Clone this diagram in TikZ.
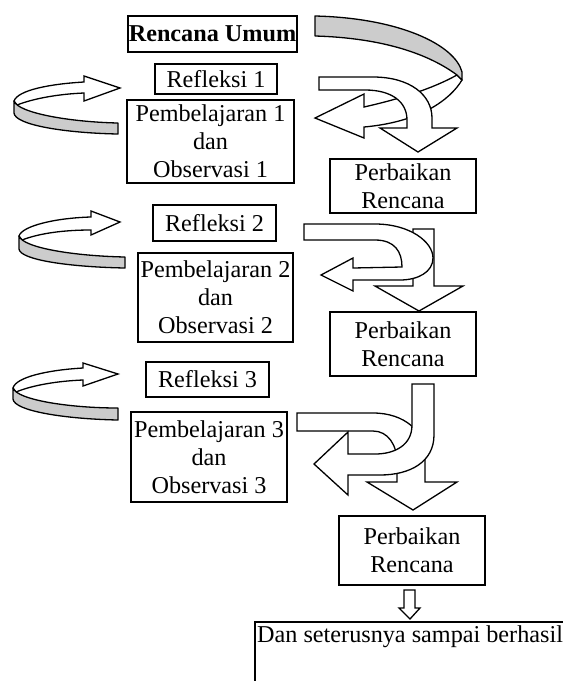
\documentclass[tikz,border=0pt]{standalone}
\usepackage{fontspec}
\setmainfont{Liberation Serif}
\definecolor{ribbon}{RGB}{204,204,204}
\begin{document}
\begin{tikzpicture}[x=1pt,y=-1pt,
  txt/.style={font=\fontsize{24.2}{28}\selectfont},
  box/.style={draw, line width=1.4pt, inner sep=0pt, align=center, txt},
  shp/.style={draw, line width=1.3pt, line join=miter, fill=white},
  band/.style={draw, line width=1.3pt, line join=round, fill=ribbon}]
\useasboundingbox (0,0) rectangle (563,681);

% ---- boxes ----
\node[box, minimum width=169pt, minimum height=36pt] (ru) at (212.5,34) {\textbf{Rencana Umum}};
\node[box, minimum width=122pt, minimum height=30pt] (r1) at (216,79) {Refleksi 1};
\node[box, minimum width=167pt, minimum height=83pt] (p1) at (210.5,141.5) {Pembelajaran 1\\dan\\Observasi 1};
\node[box, minimum width=146pt, minimum height=54pt] (pr1) at (403,186) {Perbaikan\\Rencana};
\node[box, minimum width=123pt, minimum height=36pt] (r2) at (214.5,223) {Refleksi 2};
\node[box, minimum width=155pt, minimum height=89pt] (p2) at (215.5,297.5) {Pembelajaran 2\\dan\\Observasi 2};
\node[box, minimum width=146pt, minimum height=64pt] (pr2) at (403,344) {Perbaikan\\Rencana};
\node[box, minimum width=123pt, minimum height=35pt] (r3) at (207.5,379.5) {Refleksi 3};
\node[box, minimum width=156pt, minimum height=90pt] (p3) at (209,457) {Pembelajaran 3\\dan\\Observasi 3};
\node[box, minimum width=146pt, minimum height=69pt] (pr3) at (412,550.5) {Perbaikan\\Rencana};
\node[txt, anchor=west, inner sep=0pt] (dan) at (257,637) {Dan seterusnya sampai berhasil};
\draw[line width=1.4pt] (563,622) -- (255,622) -- (255,681);

% ---- row 1: ribbon arrow from Rencana Umum back to Pembelajaran 1 ----
\draw[shp] (315,118) -- (364,94) -- (364,107) .. controls (395,100) and (430,90) .. (457,75)
  -- (462,80) .. controls (450,100) and (420,122) .. (364,127) -- (364,138) -- cycle;
\draw[band] (315,16) .. controls (400,18) and (455,45) .. (462,72) -- (462,80) -- (457,75)
  .. controls (430,55) and (385,38) .. (315,36) -- cycle;
% bent arrow Refleksi 1 -> Perbaikan 1
\draw[shp] (319,77) -- (373,77) .. controls (410,77) and (432,95) .. (432,118) -- (432,128)
  -- (457,128) -- (418,152) -- (380,128) -- (407,128) -- (407,120)
  .. controls (407,102) and (392,90) .. (365,90) -- (319,90) -- cycle;

% ---- row 2 ----
\draw[shp] (413,229) -- (434,229) -- (434,286) -- (463,286) -- (419,311) -- (375,286) -- (413,286) -- cycle;
\draw[shp] (304,224) -- (375,224) .. controls (410,224) and (433,242) .. (433,258)
  .. controls (433,272) and (418,280) .. (400,280) -- (353,280) -- (353,291) -- (321,275)
  -- (353,258) -- (353,268) -- (402,267) .. controls (402,252) and (395,240) .. (375,240)
  -- (304,240) -- cycle;

% ---- row 3 ----
\draw[shp] (297,413) -- (373,413) .. controls (405,413) and (425,432) .. (425,455) -- (425,482)
  -- (457,482) -- (413,510) -- (367,482) -- (397,482) -- (397,462)
  .. controls (397,445) and (388,431) .. (373,431) -- (297,431) -- cycle;
\draw[shp] (412,384) -- (434,384) -- (434,435) .. controls (434,462) and (410,475) .. (380,475)
  -- (348,475) -- (348,495) -- (314,464) -- (348,432) -- (348,454) -- (375,454)
  .. controls (395,454) and (412,445) .. (412,425) -- cycle;

% ---- left circular arrows ----
\draw[shp] (120,88) -- (84,76) -- (84,82) .. controls (50,84) and (18,90) .. (14,101)
  -- (17,105) .. controls (35,98) and (60,94) .. (84,93) -- (84,101) -- cycle;
\draw[band] (14,101) .. controls (18,113) and (70,122) .. (118,123) -- (118,134)
  .. controls (65,133) and (15,125) .. (14,113) -- cycle;

\draw[shp] (120,222) -- (91,211) -- (91,217) .. controls (55,218) and (22,226) .. (19,236)
  -- (22,240) .. controls (40,233) and (65,230) .. (91,230) -- (91,235) -- cycle;
\draw[band] (19,236) .. controls (23,248) and (75,256) .. (125,257) -- (125,268)
  .. controls (70,267) and (20,260) .. (19,249) -- cycle;

\draw[shp] (118,374) -- (83,363) -- (83,368) .. controls (48,370) and (16,377) .. (13,388)
  -- (16,392) .. controls (33,385) and (58,381) .. (83,380) -- (83,386) -- cycle;
\draw[band] (13,388) .. controls (17,400) and (70,408) .. (118,408) -- (118,420)
  .. controls (65,419) and (14,411) .. (13,399) -- cycle;

% ---- small arrow to final box ----
\draw[shp] (404,590) -- (415,590) -- (415,608) -- (420,608) -- (410,619) -- (399,608) -- (404,608) -- cycle;
\end{tikzpicture}
\end{document}
